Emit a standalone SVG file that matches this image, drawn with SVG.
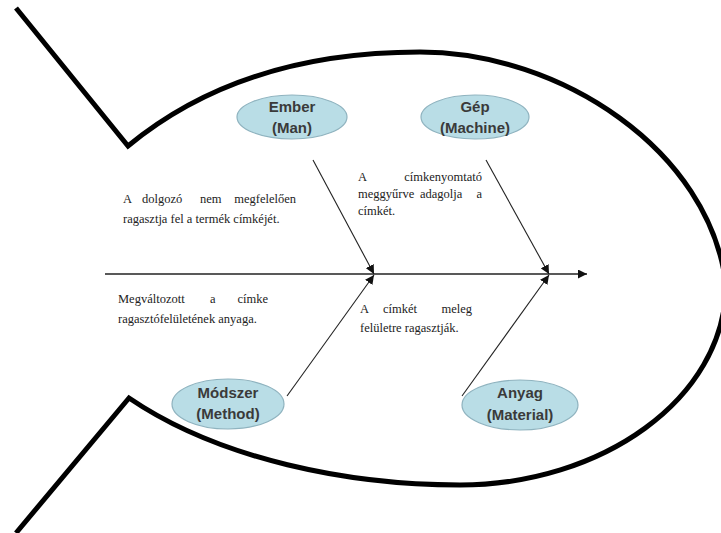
<svg xmlns="http://www.w3.org/2000/svg" width="721" height="533" viewBox="0 0 721 533">
<style>
.outline{fill:none;stroke:#000;stroke-width:5;stroke-linejoin:miter}
.bone{fill:none;stroke:#222;stroke-width:1.1}
.spine{fill:none;stroke:#222;stroke-width:1.5}
.node ellipse{fill:#b9dde6;stroke:#8fb3bf;stroke-width:1.2}
.node text{font-family:"Liberation Sans",Arial,sans-serif;font-weight:bold;font-size:15px;fill:#3a3a3a;text-anchor:middle}
.note{font-family:"Liberation Serif","Times New Roman",serif;font-size:12.5px;fill:#222}
</style>
<defs>
<marker id="ah" viewBox="0 0 10 10" refX="10" refY="5" markerWidth="9" markerHeight="9" markerUnits="userSpaceOnUse" orient="auto">
<path d="M0,0 L10,5 L0,10 z" fill="#111"/>
</marker>
</defs>
<rect width="721" height="533" fill="#fff"/>
<path class="outline" d="M16,8 L128,146 C220,70 330,52 420,52 C560,52 710,150 726,285 C725,400 600,485 460,485 C350,485 220,460 129,398 L16,533"/>
<g id="connectors">
<line class="spine" x1="105" y1="274" x2="587" y2="274" marker-end="url(#ah)"/>
<line class="bone" x1="313" y1="160" x2="374" y2="274" marker-end="url(#ah)"/>
<line class="bone" x1="486" y1="160" x2="549" y2="274" marker-end="url(#ah)"/>
<line class="bone" x1="287" y1="396" x2="374" y2="275" marker-end="url(#ah)"/>
<line class="bone" x1="462" y1="396" x2="549" y2="275" marker-end="url(#ah)"/>
</g>
<g id="ember" class="node">
<ellipse cx="292" cy="117" rx="55" ry="22"/>
<text x="292" y="112">Ember</text>
<text x="292" y="133">(Man)</text>
</g>
<g id="gep" class="node">
<ellipse cx="475" cy="117" rx="54" ry="22"/>
<text x="475" y="112">Gép</text>
<text x="475" y="133">(Machine)</text>
</g>
<g id="modszer" class="node">
<ellipse cx="228" cy="404" rx="56" ry="25"/>
<text x="228" y="398">Módszer</text>
<text x="228" y="419">(Method)</text>
</g>
<g id="anyag" class="node">
<ellipse cx="520" cy="405" rx="58" ry="25"/>
<text x="520" y="398">Anyag</text>
<text x="520" y="420">(Material)</text>
</g>
<g id="notes">
<text class="note" y="203"><tspan x="123">A</tspan><tspan x="142">dolgozó</tspan><tspan x="200">nem</tspan><tspan x="296" text-anchor="end">megfelelően</tspan></text>
<text class="note" x="123" y="223">ragasztja fel a termék címkéjét.</text>
<text class="note" y="181"><tspan x="358">A</tspan><tspan x="482" text-anchor="end">címkenyomtató</tspan></text>
<text class="note" y="198"><tspan x="358">meggyűrve</tspan><tspan x="420">adagolja</tspan><tspan x="482" text-anchor="end">a</tspan></text>
<text class="note" x="358" y="215">címkét.</text>
<text class="note" y="303"><tspan x="118">Megváltozott</tspan><tspan x="210">a</tspan><tspan x="268" text-anchor="end">címke</tspan></text>
<text class="note" x="118" y="323">ragasztófelületének anyaga.</text>
<text class="note" y="313"><tspan x="360">A</tspan><tspan x="383">címkét</tspan><tspan x="472" text-anchor="end">meleg</tspan></text>
<text class="note" x="360" y="332">felületre ragasztják.</text>
</g>
</svg>
